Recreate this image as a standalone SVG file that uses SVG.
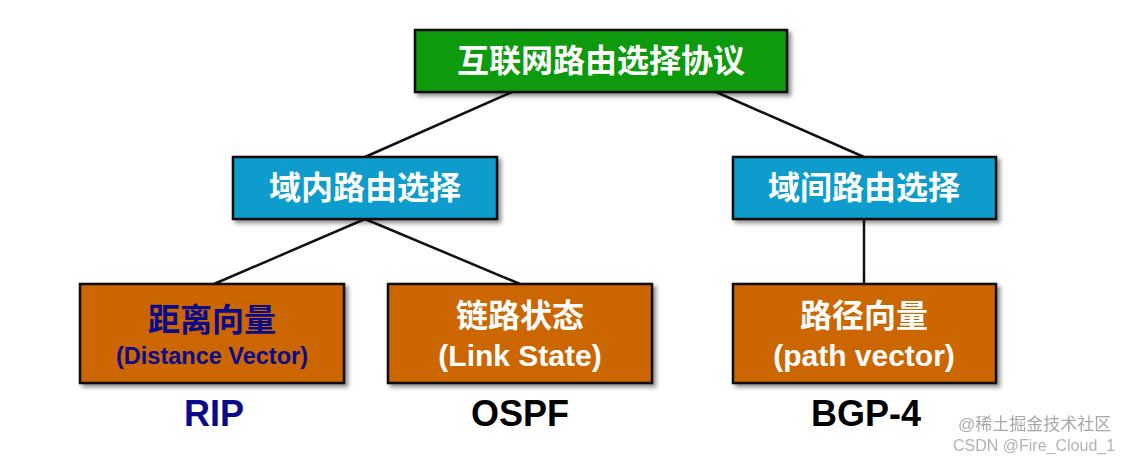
<svg xmlns="http://www.w3.org/2000/svg" width="1134" height="458" viewBox="0 0 1134 458">
<defs>
<filter id="sh" x="-10%" y="-10%" width="130%" height="140%"><feDropShadow dx="3" dy="3" stdDeviation="2" flood-color="#000" flood-opacity="0.45"/></filter>
</defs>
<style>
.b{stroke:#111;stroke-width:2.5;filter:url(#sh)}
.t{font-family:"Liberation Sans","Noto Sans CJK SC",sans-serif;font-weight:bold;text-anchor:middle}
.w{fill:#fff;font-size:32px}
.c{stroke:#111;stroke-width:2.5;fill:none}
.wm{font-family:"Liberation Sans","Noto Sans CJK SC",sans-serif;fill:#999}
</style>
<rect width="1134" height="458" fill="#fff"/>
<g id="connectors">
<line class="c" x1="512" y1="92" x2="365" y2="157"/>
<line class="c" x1="716" y1="92" x2="864" y2="157"/>
<line class="c" x1="365" y1="219" x2="214" y2="284"/>
<line class="c" x1="365" y1="219" x2="520" y2="284"/>
<line class="c" x1="864" y1="219" x2="864" y2="284"/>
</g>
<g id="root"><rect class="b" x="415" y="30" width="372" height="62" fill="#0a9a0a"/><text class="t w" x="601" y="72">互联网路由选择协议</text></g>
<g id="intra"><rect class="b" x="233" y="157" width="264" height="62" fill="#0f9ccc"/><text class="t w" x="365" y="199">域内路由选择</text></g>
<g id="inter"><rect class="b" x="733" y="157" width="263" height="62" fill="#0f9ccc"/><text class="t w" x="864" y="199">域间路由选择</text></g>
<g id="dv"><rect class="b" x="80" y="284" width="264" height="99" fill="#cc6600"/><text class="t" x="212" y="331" font-size="32" fill="#0a0a8a">距离向量</text><text class="t" x="212" y="364" font-size="23.5" fill="#0a0a8a">(Distance Vector)</text></g>
<g id="ls"><rect class="b" x="388" y="284" width="264" height="99" fill="#cc6600"/><text class="t w" x="520" y="327">链路状态</text><text class="t" x="520" y="366" font-size="30" fill="#fff">(Link State)</text></g>
<g id="pv"><rect class="b" x="733" y="284" width="263" height="99" fill="#cc6600"/><text class="t w" x="864" y="327">路径向量</text><text class="t" x="864" y="366" font-size="30" fill="#fff">(path vector)</text></g>
<text class="t" x="214" y="426" font-size="36" fill="#0a0a8a">RIP</text>
<text class="t" x="520" y="426" font-size="36" fill="#000">OSPF</text>
<text class="t" x="866" y="426" font-size="36" fill="#000">BGP-4</text>
<text class="wm" x="958" y="430" font-size="17" opacity="0.85">@稀土掘金技术社区</text>
<text class="wm" x="953" y="451" font-size="16" opacity="0.75">CSDN @Fire_Cloud_1</text>
</svg>
